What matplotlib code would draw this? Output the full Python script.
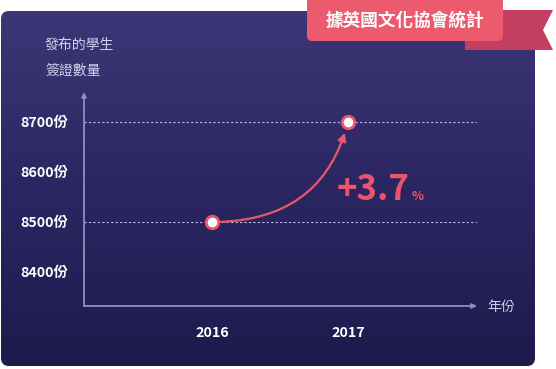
import matplotlib
matplotlib.use('Agg')
import matplotlib.pyplot as plt
import numpy as np
from matplotlib.patches import FancyBboxPatch, Polygon
from matplotlib.colors import LinearSegmentedColormap

plt.rcParams['font.family'] = ['Noto Sans CJK TC', 'DejaVu Sans']

# ---- data ----
years = [2016, 2017]
year_labels = ['2016', '2017']
visas = [8500, 8700]
ytick_values = [8400, 8500, 8600, 8700]
ytick_labels = ['8400份', '8500份', '8600份', '8700份']
grid_values = [8500, 8700]
growth_label = '+3.7'
growth_unit = '%'
source_label = '據英國文化協會統計'
y_title_lines = ['發布的學生', '簽證數量']
x_title = '年份'

# ---- style ----
W, H = 556, 369
PINK = '#e9566b'
AXIS = '#938dc4'
GRID = '#bdb8e0'
TITLE = '#d4d0ec'

fig = plt.figure(figsize=(W / 100, H / 100), dpi=100)
fig.patch.set_facecolor('white')

# decoration layer in pixel coordinates
bg = fig.add_axes([0, 0, 1, 1])
bg.axis('off')
panel = FancyBboxPatch((1, 11), 534, 355, boxstyle='round,pad=0,rounding_size=8',
                       facecolor='none', edgecolor='none')
bg.add_patch(panel)
grad = np.linspace(0, 1, 256).reshape(-1, 1)
cmap = LinearSegmentedColormap.from_list('g', ['#3c3676', '#2b2662', '#1e1a4c'])
im = bg.imshow(grad, extent=[0, 536, 367, 10], cmap=cmap, aspect='auto', zorder=0)
im.set_clip_path(panel)
bg.set_xlim(0, W)
bg.set_ylim(H, 0)

# ribbon
tail = Polygon([(465, 10), (553, 10), (543, 30), (553, 50), (465, 50)],
               closed=True, facecolor='#c43f5f', edgecolor='none', zorder=2)
bg.add_patch(tail)
ribbon = FancyBboxPatch((307, -4), 196, 45, boxstyle='round,pad=0,rounding_size=5',
                        facecolor='#ec5a6e', edgecolor='none', zorder=3)
bg.add_patch(ribbon)
bg.text(405, 21, source_label, color='white', fontsize=12.7, fontweight='bold',
        ha='center', va='center', zorder=4)

# titles
bg.text(45, 45, y_title_lines[0], color=TITLE, fontsize=10, ha='left', va='center')
bg.text(45, 71, y_title_lines[1], color=TITLE, fontsize=10, ha='left', va='center')
bg.text(487, 307, x_title, color=TITLE, fontsize=10, ha='left', va='center')

# ---- main axes ----
ax = fig.add_axes([84 / W, 1 - 306 / H, (477 - 84) / W, (306 - 92) / H])
ax.patch.set_alpha(0)
ax.set_xlim(2016 - 128 / 136, 2017 + 129 / 136)
ax.set_ylim(8500 - 84 * 2, 8700 + 30 * 2)
for s in ax.spines.values():
    s.set_visible(False)

ax.annotate('', xy=(0, 1), xytext=(0, 0), xycoords='axes fraction',
            arrowprops=dict(arrowstyle='-|>', color=AXIS, lw=1.3, mutation_scale=7,
                            shrinkA=0, shrinkB=0))
ax.annotate('', xy=(1, 0), xytext=(0, 0), xycoords='axes fraction',
            arrowprops=dict(arrowstyle='-|>', color=AXIS, lw=1.3, mutation_scale=7,
                            shrinkA=0, shrinkB=0))

ax.hlines(grid_values, ax.get_xlim()[0], ax.get_xlim()[1], colors=GRID,
          linestyles=(0, (2, 2)), lw=0.8, zorder=1)

ax.set_yticks(ytick_values, ytick_labels)
ax.set_xticks(years, year_labels)
ax.tick_params(axis='y', length=0, pad=11.5, labelcolor='white', labelsize=10.3)
ax.tick_params(axis='x', length=0, pad=14.5, labelcolor='white', labelsize=10.3)
for lab in ax.get_xticklabels() + ax.get_yticklabels():
    lab.set_fontweight('bold')

ax.annotate('', xy=(years[1], visas[1]), xytext=(years[0], visas[0]),
            arrowprops=dict(arrowstyle='-|>', connectionstyle='angle3,angleA=0,angleB=75',
                            color=PINK, lw=1.6, shrinkA=6, shrinkB=8, mutation_scale=12),
            zorder=4)
ax.plot(years, visas, 'o', ms=9, mfc='white', mec=PINK, mew=2, zorder=5)

txt = ax.text(2016 + (337 - 212) / 136, 8500 + (222 - 200) * 2, growth_label,
              color=PINK, fontsize=25, fontweight='bold', ha='left', va='baseline')
ax.annotate(growth_unit, xy=(1, 0), xycoords=txt, xytext=(1, 3), textcoords='offset points',
            color=PINK, fontsize=9, fontweight='bold', ha='left', va='bottom')

fig.savefig('out.png', dpi=100, facecolor='white')
